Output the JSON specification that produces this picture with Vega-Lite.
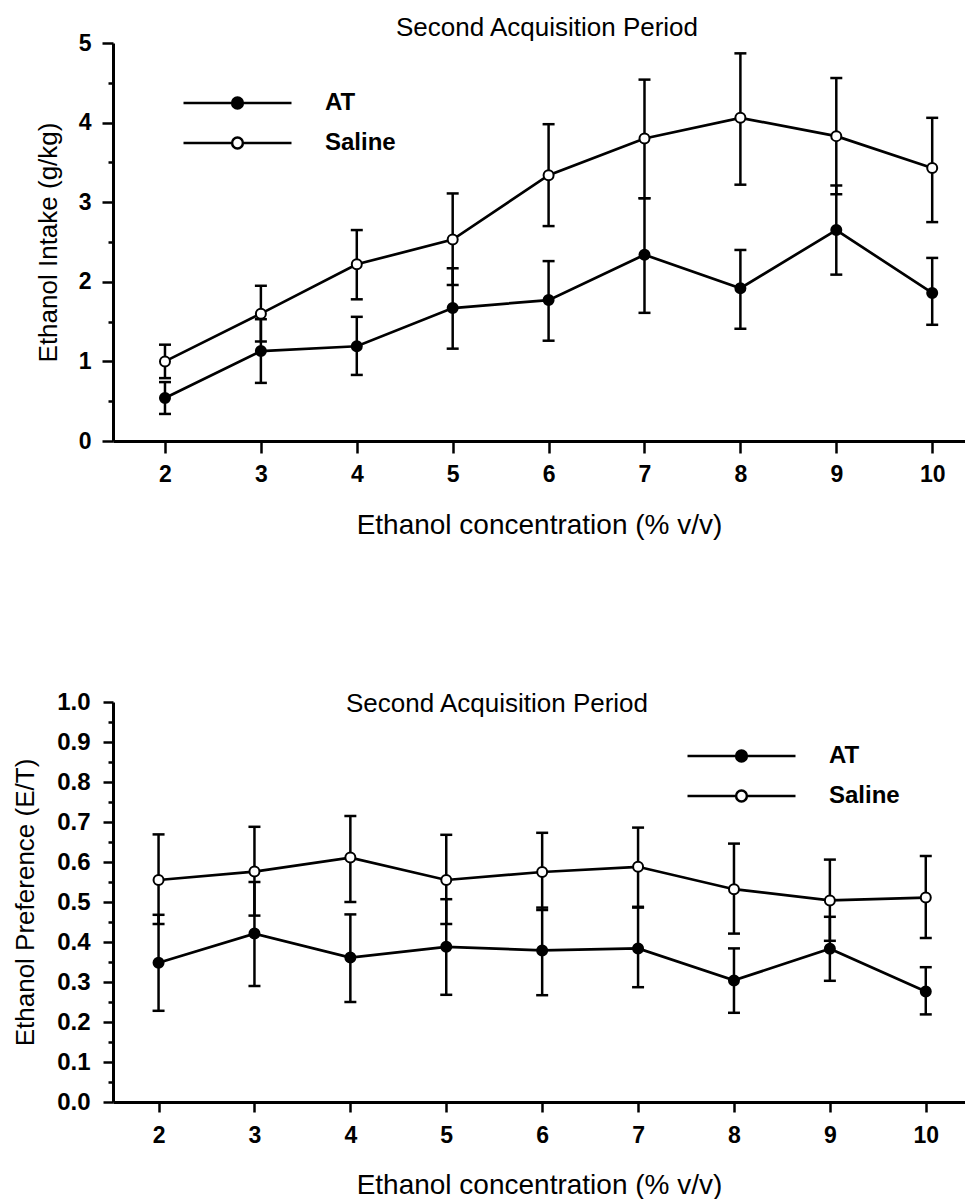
{
  "$schema": "https://vega.github.io/schema/vega-lite/v6.json",
  "background": "white",
  "padding": {"left": 12, "top": 15, "right": 0, "bottom": 0},
  "autosize": {"type": "pad"},
  "bounds": "flush",
  "spacing": 261,
  "resolve": {"scale": {"fill": "independent"}, "legend": {"fill": "independent"}},
  "config": {
    "view": {"stroke": null},
    "font": "Liberation Sans",
    "axis": {
      "domainColor": "black", "tickColor": "black", "labelColor": "black", "titleColor": "black",
      "grid": false, "domainWidth": 3, "tickWidth": 2.5,
      "labelFont": "Liberation Sans", "labelFontSize": 23, "labelFontWeight": "bold",
      "titleFont": "Liberation Sans", "titleFontSize": 26, "titleFontWeight": "normal",
      "labelFlush": false, "labelOverlap": false
    },
    "title": {"font": "Liberation Sans", "fontSize": 26, "fontWeight": "normal", "color": "black", "anchor": "middle"},
    "legend": {
      "orient": "none", "title": null, "padding": 0,
      "symbolType": "M-1,0H-0.1M0.1,0H1M0.1,0A0.1,0.1,0,1,1,-0.1,0A0.1,0.1,0,1,1,0.1,0Z",
      "symbolSize": 11664, "symbolStrokeWidth": 2.5, "symbolStrokeColor": "black",
      "labelFont": "Liberation Sans", "labelFontSize": 24, "labelFontWeight": "bold", "labelColor": "black",
      "labelOffset": 32, "clipHeight": 20, "rowPadding": 16
    }
  },
  "datasets": {
    "intake": [
      {"conc": 2, "group": "AT", "mean": 0.54, "lo": 0.34, "hi": 0.74},
      {"conc": 2, "group": "Saline", "mean": 1.0, "lo": 0.79, "hi": 1.21},
      {"conc": 3, "group": "AT", "mean": 1.13, "lo": 0.73, "hi": 1.53},
      {"conc": 3, "group": "Saline", "mean": 1.6, "lo": 1.25, "hi": 1.95},
      {"conc": 4, "group": "AT", "mean": 1.19, "lo": 0.83, "hi": 1.56},
      {"conc": 4, "group": "Saline", "mean": 2.22, "lo": 1.78, "hi": 2.65},
      {"conc": 5, "group": "AT", "mean": 1.67, "lo": 1.16, "hi": 2.17},
      {"conc": 5, "group": "Saline", "mean": 2.53, "lo": 1.96, "hi": 3.11},
      {"conc": 6, "group": "AT", "mean": 1.77, "lo": 1.26, "hi": 2.26},
      {"conc": 6, "group": "Saline", "mean": 3.34, "lo": 2.7, "hi": 3.98},
      {"conc": 7, "group": "AT", "mean": 2.34, "lo": 1.61, "hi": 3.05},
      {"conc": 7, "group": "Saline", "mean": 3.8, "lo": 3.05, "hi": 4.54},
      {"conc": 8, "group": "AT", "mean": 1.92, "lo": 1.41, "hi": 2.4},
      {"conc": 8, "group": "Saline", "mean": 4.06, "lo": 3.22, "hi": 4.87},
      {"conc": 9, "group": "AT", "mean": 2.65, "lo": 2.09, "hi": 3.21},
      {"conc": 9, "group": "Saline", "mean": 3.83, "lo": 3.1, "hi": 4.56},
      {"conc": 10, "group": "AT", "mean": 1.86, "lo": 1.46, "hi": 2.3},
      {"conc": 10, "group": "Saline", "mean": 3.43, "lo": 2.75, "hi": 4.06}
    ],
    "pref": [
      {"conc": 2, "group": "AT", "mean": 0.348, "lo": 0.228, "hi": 0.468},
      {"conc": 2, "group": "Saline", "mean": 0.555, "lo": 0.445, "hi": 0.669},
      {"conc": 3, "group": "AT", "mean": 0.421, "lo": 0.29, "hi": 0.55},
      {"conc": 3, "group": "Saline", "mean": 0.576, "lo": 0.466, "hi": 0.688},
      {"conc": 4, "group": "AT", "mean": 0.361, "lo": 0.25, "hi": 0.469},
      {"conc": 4, "group": "Saline", "mean": 0.611, "lo": 0.5, "hi": 0.715},
      {"conc": 5, "group": "AT", "mean": 0.388, "lo": 0.268, "hi": 0.507},
      {"conc": 5, "group": "Saline", "mean": 0.555, "lo": 0.445, "hi": 0.668},
      {"conc": 6, "group": "AT", "mean": 0.379, "lo": 0.267, "hi": 0.486},
      {"conc": 6, "group": "Saline", "mean": 0.575, "lo": 0.48, "hi": 0.673},
      {"conc": 7, "group": "AT", "mean": 0.384, "lo": 0.287, "hi": 0.486},
      {"conc": 7, "group": "Saline", "mean": 0.588, "lo": 0.488, "hi": 0.686},
      {"conc": 8, "group": "AT", "mean": 0.304, "lo": 0.223, "hi": 0.384},
      {"conc": 8, "group": "Saline", "mean": 0.532, "lo": 0.421, "hi": 0.646},
      {"conc": 9, "group": "AT", "mean": 0.383, "lo": 0.303, "hi": 0.463},
      {"conc": 9, "group": "Saline", "mean": 0.504, "lo": 0.403, "hi": 0.606},
      {"conc": 10, "group": "AT", "mean": 0.276, "lo": 0.219, "hi": 0.337},
      {"conc": 10, "group": "Saline", "mean": 0.511, "lo": 0.41, "hi": 0.615}
    ]
  },
  "vconcat": [
    {
      "width": 852, "height": 398,
      "title": {"text": "Second Acquisition Period", "offset": -9, "dx": 8},
      "data": {"name": "intake"},
      "encoding": {
        "x": {"field": "conc", "type": "quantitative",
          "scale": {"domain": [1.458, 10.342], "nice": false, "zero": false},
          "axis": {"values": [2, 3, 4, 5, 6, 7, 8, 9, 10], "tickSize": 12, "labelPadding": 10,
            "title": "Ethanol concentration (% v/v)", "titleFontSize": 28, "titlePadding": 25}}
      },
      "layer": [
        {
          "mark": {"type": "rule", "strokeWidth": 2.5, "color": "black"},
          "encoding": {
            "y": {"field": "lo", "type": "quantitative", "scale": {"domain": [0, 5], "nice": false},
              "axis": {"values": [0, 0.5, 1, 1.5, 2, 2.5, 3, 3.5, 4, 4.5, 5],
                "labelExpr": "datum.value % 1 == 0 ? format(datum.value, 'd') : ''", "labelOverlap": false,
                "tickSize": {"condition": {"test": "datum.value % 1 == 0", "value": 11}, "value": 5},
                "labelPadding": 11, "title": "Ethanol Intake (g/kg)", "titlePadding": 17}},
            "y2": {"field": "hi"}
          }
        },
        {
          "mark": {"type": "tick", "orient": "horizontal", "size": 12, "thickness": 2.5, "color": "black", "opacity": 1},
          "encoding": {"y": {"field": "lo", "type": "quantitative",
              "axis": {"values": [0, 0.5, 1, 1.5, 2, 2.5, 3, 3.5, 4, 4.5, 5],
                "labelExpr": "datum.value % 1 == 0 ? format(datum.value, 'd') : ''", "labelOverlap": false,
                "tickSize": {"condition": {"test": "datum.value % 1 == 0", "value": 11}, "value": 5},
                "labelPadding": 11, "title": "Ethanol Intake (g/kg)", "titlePadding": 17}}}
        },
        {
          "mark": {"type": "tick", "orient": "horizontal", "size": 12, "thickness": 2.5, "color": "black", "opacity": 1},
          "encoding": {"y": {"field": "hi", "type": "quantitative",
              "axis": {"values": [0, 0.5, 1, 1.5, 2, 2.5, 3, 3.5, 4, 4.5, 5],
                "labelExpr": "datum.value % 1 == 0 ? format(datum.value, 'd') : ''", "labelOverlap": false,
                "tickSize": {"condition": {"test": "datum.value % 1 == 0", "value": 11}, "value": 5},
                "labelPadding": 11, "title": "Ethanol Intake (g/kg)", "titlePadding": 17}}}
        },
        {
          "mark": {"type": "line", "color": "black", "strokeWidth": 2.7},
          "encoding": {"y": {"field": "mean", "type": "quantitative",
              "axis": {"values": [0, 0.5, 1, 1.5, 2, 2.5, 3, 3.5, 4, 4.5, 5],
                "labelExpr": "datum.value % 1 == 0 ? format(datum.value, 'd') : ''", "labelOverlap": false,
                "tickSize": {"condition": {"test": "datum.value % 1 == 0", "value": 11}, "value": 5},
                "labelPadding": 11, "title": "Ethanol Intake (g/kg)", "titlePadding": 17}},
            "detail": {"field": "group"}}
        },
        {
          "mark": {"type": "point", "filled": true, "stroke": "black", "strokeWidth": 2, "size": 100, "opacity": 1},
          "encoding": {
            "y": {"field": "mean", "type": "quantitative",
              "axis": {"values": [0, 0.5, 1, 1.5, 2, 2.5, 3, 3.5, 4, 4.5, 5],
                "labelExpr": "datum.value % 1 == 0 ? format(datum.value, 'd') : ''", "labelOverlap": false,
                "tickSize": {"condition": {"test": "datum.value % 1 == 0", "value": 11}, "value": 5},
                "labelPadding": 11, "title": "Ethanol Intake (g/kg)", "titlePadding": 17}},
            "fill": {"field": "group", "type": "nominal",
              "scale": {"domain": ["AT", "Saline"], "range": ["black", "white"]},
              "legend": {"legendX": 69, "legendY": 50}}
          }
        }
      ]
    },
    {
      "width": 852, "height": 400,
      "title": {"text": "Second Acquisition Period", "offset": -27, "dx": -42},
      "data": {"name": "pref"},
      "encoding": {
        "x": {"field": "conc", "type": "quantitative",
          "scale": {"domain": [1.525, 10.409], "nice": false, "zero": false},
          "axis": {"values": [2, 3, 4, 5, 6, 7, 8, 9, 10], "tickSize": 10, "labelPadding": 12.5,
            "title": "Ethanol concentration (% v/v)", "titleFontSize": 28, "titlePadding": 23.5}}
      },
      "layer": [
        {
          "mark": {"type": "rule", "strokeWidth": 2.5, "color": "black"},
          "encoding": {
            "y": {"field": "lo", "type": "quantitative", "scale": {"domain": [0, 1], "nice": false},
              "axis": {"values": [0, 0.05, 0.1, 0.15, 0.2, 0.25, 0.3, 0.35, 0.4, 0.45, 0.5, 0.55, 0.6, 0.65, 0.7, 0.75, 0.8, 0.85, 0.9, 0.95, 1],
                "labelExpr": "abs(datum.value * 10 - round(datum.value * 10)) < 0.001 ? format(datum.value, '.1f') : ''",
                "labelOverlap": false, "labelFontSize": 24,
                "tickSize": {"condition": {"test": "abs(datum.value * 10 - round(datum.value * 10)) < 0.001", "value": 10}, "value": 5},
                "labelPadding": 13, "title": "Ethanol Preference (E/T)", "titlePadding": 18}},
            "y2": {"field": "hi"}
          }
        },
        {
          "mark": {"type": "tick", "orient": "horizontal", "size": 12, "thickness": 2.5, "color": "black", "opacity": 1},
          "encoding": {"y": {"field": "lo", "type": "quantitative",
              "axis": {"values": [0, 0.05, 0.1, 0.15, 0.2, 0.25, 0.3, 0.35, 0.4, 0.45, 0.5, 0.55, 0.6, 0.65, 0.7, 0.75, 0.8, 0.85, 0.9, 0.95, 1],
                "labelExpr": "abs(datum.value * 10 - round(datum.value * 10)) < 0.001 ? format(datum.value, '.1f') : ''",
                "labelOverlap": false, "labelFontSize": 24,
                "tickSize": {"condition": {"test": "abs(datum.value * 10 - round(datum.value * 10)) < 0.001", "value": 10}, "value": 5},
                "labelPadding": 13, "title": "Ethanol Preference (E/T)", "titlePadding": 18}}}
        },
        {
          "mark": {"type": "tick", "orient": "horizontal", "size": 12, "thickness": 2.5, "color": "black", "opacity": 1},
          "encoding": {"y": {"field": "hi", "type": "quantitative",
              "axis": {"values": [0, 0.05, 0.1, 0.15, 0.2, 0.25, 0.3, 0.35, 0.4, 0.45, 0.5, 0.55, 0.6, 0.65, 0.7, 0.75, 0.8, 0.85, 0.9, 0.95, 1],
                "labelExpr": "abs(datum.value * 10 - round(datum.value * 10)) < 0.001 ? format(datum.value, '.1f') : ''",
                "labelOverlap": false, "labelFontSize": 24,
                "tickSize": {"condition": {"test": "abs(datum.value * 10 - round(datum.value * 10)) < 0.001", "value": 10}, "value": 5},
                "labelPadding": 13, "title": "Ethanol Preference (E/T)", "titlePadding": 18}}}
        },
        {
          "mark": {"type": "line", "color": "black", "strokeWidth": 2.7},
          "encoding": {"y": {"field": "mean", "type": "quantitative",
              "axis": {"values": [0, 0.05, 0.1, 0.15, 0.2, 0.25, 0.3, 0.35, 0.4, 0.45, 0.5, 0.55, 0.6, 0.65, 0.7, 0.75, 0.8, 0.85, 0.9, 0.95, 1],
                "labelExpr": "abs(datum.value * 10 - round(datum.value * 10)) < 0.001 ? format(datum.value, '.1f') : ''",
                "labelOverlap": false, "labelFontSize": 24,
                "tickSize": {"condition": {"test": "abs(datum.value * 10 - round(datum.value * 10)) < 0.001", "value": 10}, "value": 5},
                "labelPadding": 13, "title": "Ethanol Preference (E/T)", "titlePadding": 18}},
            "detail": {"field": "group"}}
        },
        {
          "mark": {"type": "point", "filled": true, "stroke": "black", "strokeWidth": 2, "size": 100, "opacity": 1},
          "encoding": {
            "y": {"field": "mean", "type": "quantitative",
              "axis": {"values": [0, 0.05, 0.1, 0.15, 0.2, 0.25, 0.3, 0.35, 0.4, 0.45, 0.5, 0.55, 0.6, 0.65, 0.7, 0.75, 0.8, 0.85, 0.9, 0.95, 1],
                "labelExpr": "abs(datum.value * 10 - round(datum.value * 10)) < 0.001 ? format(datum.value, '.1f') : ''",
                "labelOverlap": false, "labelFontSize": 24,
                "tickSize": {"condition": {"test": "abs(datum.value * 10 - round(datum.value * 10)) < 0.001", "value": 10}, "value": 5},
                "labelPadding": 13, "title": "Ethanol Preference (E/T)", "titlePadding": 18}},
            "fill": {"field": "group", "type": "nominal",
              "scale": {"domain": ["AT", "Saline"], "range": ["black", "white"]},
              "legend": {"legendX": 573, "legendY": 44}}
          }
        }
      ]
    }
  ]
}
